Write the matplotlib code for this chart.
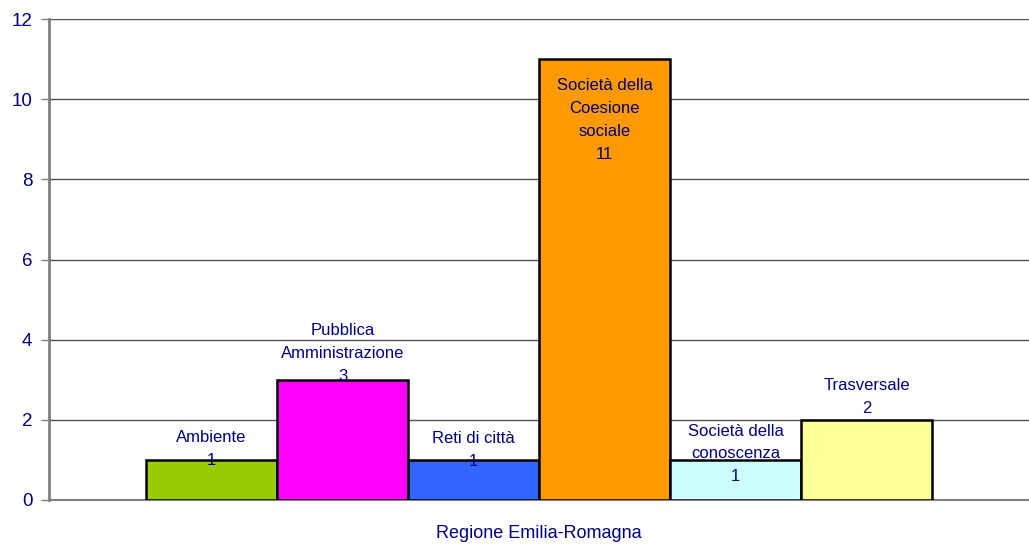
import matplotlib
matplotlib.use("Agg")
import matplotlib.pyplot as plt
import numpy as np

plt.rcParams['font.family'] = ['Liberation Sans', 'DejaVu Sans']

categories = ["Ambiente", "Pubblica\nAmministrazione", "Reti di città",
              "Società della\nCoesione\nsociale", "Società della\nconoscenza", "Trasversale"]
values = [1, 3, 1, 11, 1, 2]
colors = ["#99CC00", "#FF00FF", "#3366FF", "#FF9900", "#CCFFFF", "#FFFF99"]
group_label = "Regione Emilia-Romagna"
yticks = [0, 2, 4, 6, 8, 10, 12]
# label vertical offsets (pixels, center of text block relative to bar top)
label_offsets = [11, 26, 10, -61, 6, 23]

navy = "#000080"
fig = plt.figure(figsize=(10.29, 5.48), dpi=100)
ax = fig.add_axes([49/1029, 48/548, 980/1029, 481/548])

x = np.arange(len(values))
ax.bar(x, values, width=1.0, color=colors, edgecolor="black", linewidth=1.8, zorder=3)

for xi, v, lab, off in zip(x, values, categories, label_offsets):
    ax.annotate(f"{lab}\n{v}", xy=(xi, v), xytext=(0, off), textcoords="offset pixels",
                ha="center", va="center", color=navy, fontsize=12, linespacing=1.65, zorder=4)

ax.set_xlim(-1.24, 6.24)
ax.set_ylim(0, 12)
ax.set_yticks(yticks)
ax.set_yticklabels([str(t) for t in yticks], color=navy, fontsize=13.5)
ax.set_xticks([(x[0] + x[-1]) / 2])
ax.set_xticklabels([group_label], color=navy, fontsize=13)
ax.tick_params(axis='x', length=0, pad=18)
ax.tick_params(axis='y', length=6, width=1, color="#808080", pad=6)

ax.grid(axis='y', color="#555555", linewidth=1, zorder=0)
ax.set_axisbelow(True)
for s in ["top", "right"]:
    ax.spines[s].set_visible(False)
ax.spines["left"].set_color("#808080")
ax.spines["left"].set_linewidth(2)
ax.spines["bottom"].set_color("#808080")
ax.spines["bottom"].set_linewidth(1.5)

fig.savefig("out.png", dpi=100)
